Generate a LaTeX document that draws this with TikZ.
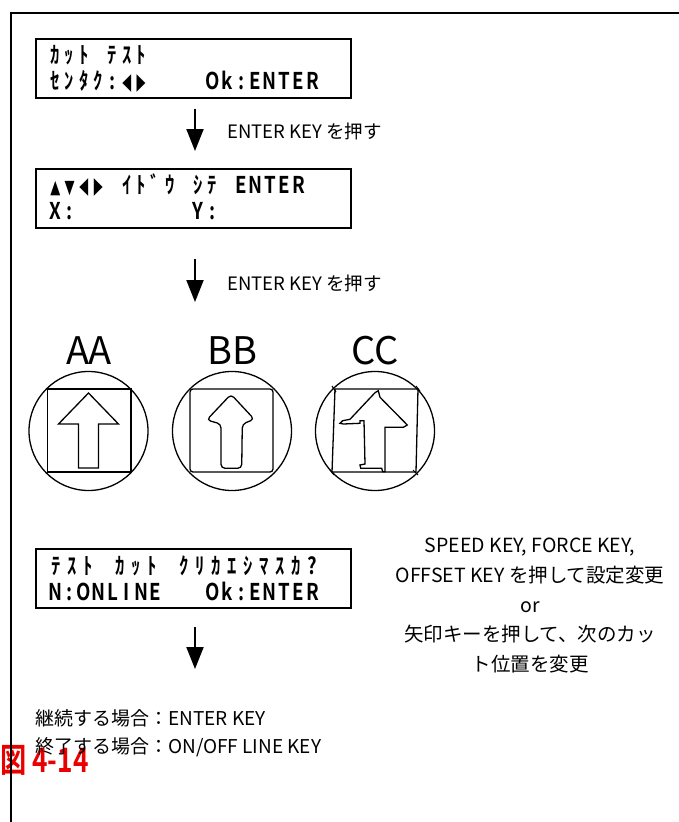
\documentclass[tikz,border=0pt]{standalone}
\usepackage{fontspec}
\usepackage{graphicx}
\usetikzlibrary{arrows.meta}
\setmainfont{Noto Sans CJK JP}
\newfontfamily\jpbold{Noto Sans CJK JP Bold}
\newfontfamily\dejavu{DejaVu Sans}
\definecolor{figred}{RGB}{235,0,0}
\newlength\lcdpitch
\setlength\lcdpitch{14.3pt}
\newcommand\lcdcell[1]{\makebox[\lcdpitch][c]{\scalebox{0.85}[1.05]{#1}}}
\def\lcd#1{\ifx#1\relax\else\lcdcell{#1}\expandafter\lcd\fi}
\newcommand\triL{\scalebox{0.62}[1]{\dejavu\fontsize{22}{22}\selectfont ◀}}
\newcommand\triR{\scalebox{0.62}[1]{\dejavu\fontsize{22}{22}\selectfont ▶}}
\newcommand\triU{\scalebox{0.85}[1]{\dejavu\fontsize{18}{18}\selectfont ▲}}
\newcommand\triD{\scalebox{0.85}[1]{\dejavu\fontsize{18}{18}\selectfont ▼}}
\begin{document}
\begin{tikzpicture}[x=1pt,y=-1pt,
  lcdbox/.style={draw, line width=2pt, minimum width=315pt, minimum height=59pt, anchor=north west, inner sep=0pt},
  lcdtext/.style={anchor=base west, inner sep=0pt, font=\jpbold\fontsize{22}{22}\selectfont},
  flow/.style={line width=2pt, -{Triangle[length=22pt,width=17pt]}},
  note/.style={anchor=base west, inner sep=0pt, font=\fontsize{18.5}{22}\selectfont},
  dial/.style={circle, draw, line width=1.3pt, minimum size=119pt, inner sep=0pt},
  icon/.style={line width=1.3pt},
  bigl/.style={inner sep=0pt, font=\fontsize{38}{38}\selectfont}]
\useasboundingbox (0,0) rectangle (678,822);

% red figure label
\node[anchor=base west, inner sep=0pt, text=figred, font=\jpbold\fontsize{32}{32}\selectfont] (fig) at (0,772) {\scalebox{0.82}[1.05]{図 4-14}};

% frame
\draw[line width=2.5pt] (11,830) -- (11,13) -- (690,13);

% LCD 1
\node[lcdbox] (lcd1) at (35,38) {};
\node[lcdtext] (l1a) at (48,63) {\lcd ｶｯﾄ~ﾃｽﾄ\relax};
\node[lcdtext] (l1b) at (48,89) {\lcd ｾﾝﾀｸ:\triL\triR~~~~Ok:ENTER\relax};

% arrow 1
\coordinate (a1s) at (195,109);
\coordinate (a1e) at (195,151);
\draw[flow] (a1s) -- (a1e);
\node[note] (t1) at (227,138) {ENTER KEY を押す};

% LCD 2
\node[lcdbox] (lcd2) at (35,168) {};
\node[lcdtext] (l2a) at (48,193) {\lcd \triU\triD\triL\triR~ｲﾄﾞｳ~ｼﾃ~ENTER\relax};
\node[lcdtext] (l2b) at (48,219) {\lcd X:~~~~~~~~Y:\relax};

% arrow 2
\coordinate (a2s) at (195,259);
\coordinate (a2e) at (195,302);
\draw[flow] (a2s) -- (a2e);
\node[note] (t2) at (227,290) {ENTER KEY を押す};

% dial labels
\node[bigl] (lA) at (89,351) {AA};
\node[bigl] (lB) at (232,351) {BB};
\node[bigl] (lC) at (375,351) {CC};

% dial AA
\node[dial] (cA) at (88.5,431) {};
\draw[icon] (47.5,389) rectangle (131,472);
\draw[icon] (88.5,393) -- (118.5,424) -- (98.5,424) -- (98.5,468) -- (78.5,468) -- (78.5,424) -- (58.5,424) -- cycle;

% dial BB
\node[dial] (cB) at (232,431) {};
\draw[icon, rounded corners=3pt] (190,389) rectangle (273,472);
\draw[icon, rounded corners=4pt] (231,394.3) -- (254.3,419.3) -- (242.3,424) -- (241.7,468.3) -- (221,468.3) -- (221,424) -- (206.7,420) -- cycle;

% dial CC
\node[dial] (cC) at (375,431) {};
\draw[icon] (335,389) -- (418,389) -- (416,472) -- (332,472) -- cycle;
\draw[line width=1pt] (332,386) -- (336,392) (416,386) -- (420,391) (330,470) -- (334,475) (413,470) -- (418,475);
\draw[icon] (375,392.7) -- (350,419.3) -- (342.7,420.7) -- (340,423.3) -- (343.3,424) -- (360,423.3) -- (360,420.7) -- (364,420.7) -- (365,464) -- (360,465) -- (360.7,468.3) -- (381.7,468.3) -- (382.7,471.7) -- (385,471.7) -- (385,427.3) -- (403.3,427.3) -- (407.3,425) -- (380,397.3) -- (378.3,390.7) -- cycle;

% LCD 3
\node[lcdbox] (lcd3) at (35,548) {};
\node[lcdtext] (l3a) at (48,574) {\setlength\lcdpitch{16pt}\lcd ﾃｽﾄ~ｶｯﾄ~ｸﾘｶｴｼﾏｽｶ?\relax};
\node[lcdtext] (l3b) at (48,600) {\lcd N:ONLINE~~~Ok:ENTER\relax};

% arrow 3
\coordinate (a3s) at (195,627);
\coordinate (a3e) at (195,669);
\draw[flow] (a3s) -- (a3e);

% right note
\node[anchor=north, inner sep=0pt, align=center, font=\fontsize{19.5}{29.7}\selectfont] (info) at (530,538)
  {SPEED KEY, FORCE KEY,\\OFFSET KEY を押して設定変更\\or\\矢印キーを押して、次のカッ\\ト位置を変更};

% bottom note
\node[anchor=north west, inner sep=0pt, align=left, font=\fontsize{19}{28}\selectfont] (bottom) at (35,709)
  {継続する場合：ENTER KEY\\終了する場合：ON/OFF LINE KEY};
\end{tikzpicture}
\end{document}
